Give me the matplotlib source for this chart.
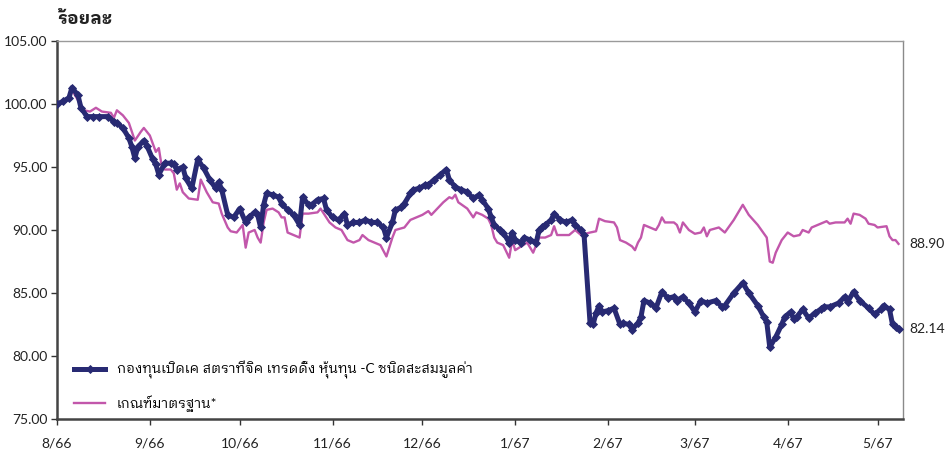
import matplotlib
matplotlib.use("Agg")
import matplotlib.pyplot as plt
from matplotlib import font_manager
from matplotlib.ft2font import FT2Font
import pandas as pd

# ---------------- data ----------------
fund_dates = [
    "2023-08-01", "2023-08-03", "2023-08-05", "2023-08-06", "2023-08-08", "2023-08-09",
    "2023-08-11", "2023-08-13", "2023-08-15", "2023-08-18", "2023-08-20", "2023-08-21",
    "2023-08-23", "2023-08-25", "2023-08-26", "2023-08-27", "2023-08-28", "2023-08-30",
    "2023-08-31", "2023-09-02", "2023-09-03", "2023-09-04", "2023-09-06", "2023-09-08",
    "2023-09-09", "2023-09-10", "2023-09-12", "2023-09-13", "2023-09-15", "2023-09-17",
    "2023-09-19", "2023-09-21", "2023-09-23", "2023-09-24", "2023-09-25", "2023-09-27",
    "2023-09-29", "2023-10-01", "2023-10-03", "2023-10-04", "2023-10-06", "2023-10-07",
    "2023-10-08", "2023-10-09", "2023-10-10", "2023-10-12", "2023-10-14", "2023-10-15",
    "2023-10-17", "2023-10-19", "2023-10-21", "2023-10-22", "2023-10-24", "2023-10-25",
    "2023-10-27", "2023-10-29", "2023-10-30", "2023-11-01", "2023-11-03", "2023-11-05",
    "2023-11-06", "2023-11-08", "2023-11-10", "2023-11-12", "2023-11-14", "2023-11-16",
    "2023-11-18", "2023-11-19", "2023-11-21", "2023-11-22", "2023-11-24", "2023-11-25",
    "2023-11-27", "2023-11-28", "2023-11-30", "2023-12-02", "2023-12-03", "2023-12-05",
    "2023-12-07", "2023-12-09", "2023-12-10", "2023-12-12", "2023-12-14", "2023-12-16",
    "2023-12-18", "2023-12-20", "2023-12-21", "2023-12-23", "2023-12-24", "2023-12-25",
    "2023-12-27", "2023-12-28", "2023-12-30", "2023-12-31", "2024-01-01", "2024-01-03",
    "2024-01-04", "2024-01-06", "2024-01-08", "2024-01-09", "2024-01-10", "2024-01-11",
    "2024-01-13", "2024-01-14", "2024-01-16", "2024-01-18", "2024-01-20", "2024-01-21",
    "2024-01-23", "2024-01-24", "2024-01-26", "2024-01-27", "2024-01-28", "2024-01-29",
    "2024-01-30", "2024-02-01", "2024-02-03", "2024-02-05", "2024-02-06", "2024-02-08",
    "2024-02-09", "2024-02-11", "2024-02-12", "2024-02-13", "2024-02-15", "2024-02-17",
    "2024-02-19", "2024-02-21", "2024-02-23", "2024-02-24", "2024-02-26", "2024-02-28",
    "2024-03-01", "2024-03-03", "2024-03-05", "2024-03-08", "2024-03-10", "2024-03-11",
    "2024-03-14", "2024-03-17", "2024-03-19", "2024-03-22", "2024-03-24", "2024-03-25",
    "2024-03-26", "2024-03-28", "2024-03-30", "2024-03-31", "2024-04-02", "2024-04-03",
    "2024-04-04", "2024-04-06", "2024-04-08", "2024-04-10", "2024-04-12", "2024-04-13",
    "2024-04-15", "2024-04-18", "2024-04-20", "2024-04-21", "2024-04-23", "2024-04-25",
    "2024-04-28", "2024-04-30", "2024-05-02", "2024-05-03", "2024-05-05", "2024-05-06",
    "2024-05-07", "2024-05-08",
]
fund_values = [
    100.0, 100.2, 100.5, 101.3, 100.7, 99.7,
    99.0, 99.0, 99.0, 99.0, 98.6, 98.5,
    98.1, 97.3, 96.6, 95.7, 96.6, 97.1,
    96.7, 95.6, 95.2, 94.4, 95.3, 95.3,
    95.2, 94.8, 95.0, 94.1, 93.3, 95.6,
    94.9, 94.0, 93.3, 93.8, 93.2, 91.2,
    91.0, 91.7, 90.6, 91.0, 91.4, 91.2,
    90.2, 92.0, 92.9, 92.8, 92.6, 92.1,
    91.6, 91.2, 90.4, 92.6, 92.0, 92.0,
    92.4, 92.5, 91.6, 91.0, 90.8, 91.3,
    90.4, 90.6, 90.6, 90.8, 90.6, 90.6,
    90.2, 89.4, 90.6, 91.6, 91.8, 92.1,
    92.9, 93.2, 93.3, 93.6, 93.6, 94.0,
    94.4, 94.8, 94.0, 93.4, 93.2, 93.0,
    92.5, 92.8, 92.4, 91.7, 91.0, 90.4,
    90.0, 89.8, 89.0, 89.8, 89.2, 89.0,
    89.4, 89.2, 89.0, 90.0, 90.2, 90.4,
    90.8, 91.3, 90.8, 90.6, 90.8, 90.4,
    90.0, 89.6, 82.6, 82.5, 83.4, 84.0,
    83.5, 83.6, 83.8, 82.5, 82.6, 82.5,
    82.1, 82.6, 83.1, 84.4, 84.2, 83.8,
    85.1, 84.6, 84.7, 84.4, 84.7, 84.2,
    83.5, 84.4, 84.2, 84.4, 83.9, 84.0,
    85.0, 85.8, 85.0, 84.0, 83.1, 82.7,
    80.7, 81.5, 82.5, 83.1, 83.5, 82.9,
    83.1, 83.7, 83.0, 83.4, 83.7, 83.9,
    83.9, 84.2, 84.7, 84.3, 85.1, 84.4,
    83.8, 83.3, 83.7, 84.0, 83.7, 82.5,
    82.3, 82.14,
]

bench_dates = [
    "2023-08-01", "2023-08-04", "2023-08-06", "2023-08-08", "2023-08-10", "2023-08-12",
    "2023-08-14", "2023-08-16", "2023-08-19", "2023-08-20", "2023-08-21", "2023-08-23",
    "2023-08-25", "2023-08-27", "2023-08-29", "2023-08-30", "2023-09-01", "2023-09-03",
    "2023-09-04", "2023-09-05", "2023-09-06", "2023-09-08", "2023-09-09", "2023-09-10",
    "2023-09-11", "2023-09-12", "2023-09-14", "2023-09-17", "2023-09-18", "2023-09-20",
    "2023-09-22", "2023-09-24", "2023-09-25", "2023-09-27", "2023-09-28", "2023-09-30",
    "2023-10-02", "2023-10-03", "2023-10-04", "2023-10-06", "2023-10-07", "2023-10-08",
    "2023-10-09", "2023-10-10", "2023-10-12", "2023-10-14", "2023-10-15", "2023-10-16",
    "2023-10-17", "2023-10-19", "2023-10-21", "2023-10-22", "2023-10-24", "2023-10-27",
    "2023-10-28", "2023-10-31", "2023-11-02", "2023-11-04", "2023-11-06", "2023-11-08",
    "2023-11-10", "2023-11-11", "2023-11-13", "2023-11-15", "2023-11-17", "2023-11-19",
    "2023-11-21", "2023-11-22", "2023-11-25", "2023-11-27", "2023-12-01", "2023-12-03",
    "2023-12-04", "2023-12-06", "2023-12-08", "2023-12-10", "2023-12-11", "2023-12-12",
    "2023-12-13", "2023-12-16", "2023-12-18", "2023-12-19", "2023-12-21", "2023-12-23",
    "2023-12-24", "2023-12-25", "2023-12-26", "2023-12-28", "2023-12-30", "2023-12-31",
    "2024-01-01", "2024-01-03", "2024-01-05", "2024-01-07", "2024-01-09", "2024-01-11",
    "2024-01-13", "2024-01-14", "2024-01-15", "2024-01-19", "2024-01-21", "2024-01-23",
    "2024-01-26", "2024-01-28", "2024-01-29", "2024-01-31", "2024-02-03", "2024-02-04",
    "2024-02-05", "2024-02-07", "2024-02-09", "2024-02-10", "2024-02-11", "2024-02-12",
    "2024-02-13", "2024-02-15", "2024-02-17", "2024-02-18", "2024-02-19", "2024-02-20",
    "2024-02-23", "2024-02-24", "2024-02-25", "2024-02-26", "2024-02-28", "2024-03-01",
    "2024-03-03", "2024-03-04", "2024-03-05", "2024-03-06", "2024-03-09", "2024-03-11",
    "2024-03-14", "2024-03-17", "2024-03-19", "2024-03-22", "2024-03-25", "2024-03-26",
    "2024-03-27", "2024-03-28", "2024-03-30", "2024-04-01", "2024-04-03", "2024-04-05",
    "2024-04-06", "2024-04-08", "2024-04-09", "2024-04-12", "2024-04-14", "2024-04-15",
    "2024-04-17", "2024-04-20", "2024-04-21", "2024-04-22", "2024-04-23", "2024-04-25",
    "2024-04-27", "2024-04-28", "2024-04-30", "2024-05-01", "2024-05-04", "2024-05-05",
    "2024-05-06", "2024-05-07", "2024-05-08",
]
bench_values = [
    100.0, 100.2, 101.1, 100.3, 99.5, 99.4,
    99.7, 99.4, 99.3, 98.9, 99.5, 99.1,
    98.5, 97.1, 97.8, 98.1, 97.5, 96.2,
    96.5, 95.0, 94.8, 94.8, 94.5, 93.2,
    93.7, 93.0, 92.5, 92.4, 94.0, 93.0,
    92.2, 92.1, 91.3, 90.2, 89.9, 89.8,
    90.4, 88.6, 89.8, 90.0, 89.4, 89.0,
    90.6, 91.6, 91.7, 91.4, 91.0, 91.0,
    89.8, 89.6, 89.4, 91.3, 91.3, 91.4,
    91.7, 90.6, 90.2, 90.0, 89.2, 89.0,
    89.2, 89.6, 89.2, 89.0, 88.8, 87.9,
    89.4, 90.0, 90.2, 90.8, 91.2, 91.5,
    91.2, 91.7, 92.2, 92.6, 92.5, 92.8,
    92.2, 91.7, 91.0, 91.4, 91.2, 90.9,
    90.4, 89.4, 89.0, 88.8, 87.8, 89.2,
    88.4, 88.7, 89.0, 88.2, 89.4, 89.4,
    89.6, 90.3, 89.6, 89.6, 90.0, 89.6,
    89.8, 89.9, 90.9, 90.7, 90.6, 90.2,
    89.2, 89.0, 88.7, 88.4, 89.0, 89.4,
    90.4, 90.2, 90.0, 90.4, 91.0, 90.6,
    90.6, 90.4, 89.8, 90.6, 90.0, 89.7,
    89.8, 90.2, 89.5, 90.0, 90.2, 89.8,
    90.8, 92.0, 91.2, 90.4, 89.4, 87.5,
    87.4, 88.2, 89.2, 89.8, 89.5, 89.6,
    90.0, 89.8, 90.2, 90.5, 90.7, 90.5,
    90.6, 90.6, 90.9, 90.5, 91.3, 91.2,
    90.9, 90.5, 90.4, 90.2, 90.3, 89.5,
    89.2, 89.2, 88.90,
]

fund_label = "กองทุนเปิดเค สตราทีจิค เทรดดิ้ง หุ้นทุน -C ชนิดสะสมมูลค่า"
bench_label = "เกณฑ์มาตรฐาน*"
y_title = "ร้อยละ"
month_ticks = ["2023-08-01", "2023-09-01", "2023-10-01", "2023-11-01", "2023-12-01",
               "2024-01-01", "2024-02-01", "2024-03-01", "2024-04-01", "2024-05-01"]
month_labels = ["8/66", "9/66", "10/66", "11/66", "12/66",
                "1/67", "2/67", "3/67", "4/67", "5/67"]
y_ticks = [75, 80, 85, 90, 95, 100, 105]

# ---------------- fonts ----------------
def find_thai_font():
    preferred = ["Looped", "Loma", "Garuda", "Waree", "Umpush", "Tlwg Typo",
                 "Sarabun", "Norasi", "Kinnari", "Laksaman", "Sawasdee", "Purisa", "Thai"]
    found = []
    for f in font_manager.fontManager.ttflist:
        try:
            cm = FT2Font(f.fname).get_charmap()
        except Exception:
            continue
        if 0x0E01 in cm and 0x0E49 in cm:
            found.append(f.name)
    if not found:
        return None
    for p in preferred:
        for n in found:
            if p.lower() in n.lower():
                return n
    return found[0]

thai = find_thai_font()
families = ["Lato"] + ([thai] if thai else []) + ["DejaVu Sans"]
plt.rcParams["font.family"] = families

NAVY = "#282a73"
PINK = "#c257ab"

fig = plt.figure(figsize=(9.5, 4.53), dpi=100)
ax = fig.add_axes([57 / 950, 1 - 419 / 453, (903 - 57) / 950, (419 - 41) / 453])

fd = pd.to_datetime(fund_dates)
bd = pd.to_datetime(bench_dates)

ax.plot(bd, bench_values, color=PINK, lw=1.7, label=bench_label, zorder=2)
ax.plot(fd, fund_values, color=NAVY, lw=3.6, marker="D", ms=3.8,
        markeredgewidth=0.6, label=fund_label, zorder=3, solid_joinstyle="round")

h, l = ax.get_legend_handles_labels()
leg = ax.legend([h[1], h[0]], [l[1], l[0]], loc="lower left",
                bbox_to_anchor=(0.006, -0.014), frameon=False, fontsize=9.8,
                handlelength=2.25, labelspacing=1.2, handletextpad=0.85)

ax.set_ylim(75, 105)
ax.set_yticks(y_ticks)
ax.set_yticklabels([f"{v:.2f}" for v in y_ticks])
ax.set_xlim(pd.Timestamp("2023-08-01"), pd.Timestamp("2024-05-09 12:00"))
ax.set_xticks(pd.to_datetime(month_ticks))
ax.set_xticklabels(month_labels)

ax.tick_params(axis="y", direction="out", length=4, width=1, colors="#333333",
               labelsize=10, pad=3)
ax.tick_params(axis="x", direction="out", length=4, width=1, colors="#333333",
               labelsize=10, pad=9)
for lab in ax.get_xticklabels() + ax.get_yticklabels():
    lab.set_color("#222222")

ax.spines["left"].set_color("#444444")
ax.spines["left"].set_linewidth(1.8)
ax.spines["bottom"].set_color("#444444")
ax.spines["bottom"].set_linewidth(1.8)
ax.spines["top"].set_color("#9a9a9a")
ax.spines["top"].set_linewidth(1.0)
ax.spines["right"].set_color("#8a8a8a")
ax.spines["right"].set_linewidth(1.0)

ax.annotate(f"{bench_values[-1]:.2f}", xy=(bd[-1], bench_values[-1]), xytext=(8, 0),
            textcoords="offset points", va="center", ha="left", fontsize=10,
            color="#222222", annotation_clip=False)
ax.annotate(f"{fund_values[-1]:.2f}", xy=(fd[-1], fund_values[-1]), xytext=(8, 0),
            textcoords="offset points", va="center", ha="left", fontsize=10,
            color="#222222", annotation_clip=False)

fig.text(57 / 950, 1 - 18 / 453, y_title, fontsize=13, fontweight="bold",
         color="#222222", ha="left", va="center")

fig.savefig("out.png", dpi=100)
